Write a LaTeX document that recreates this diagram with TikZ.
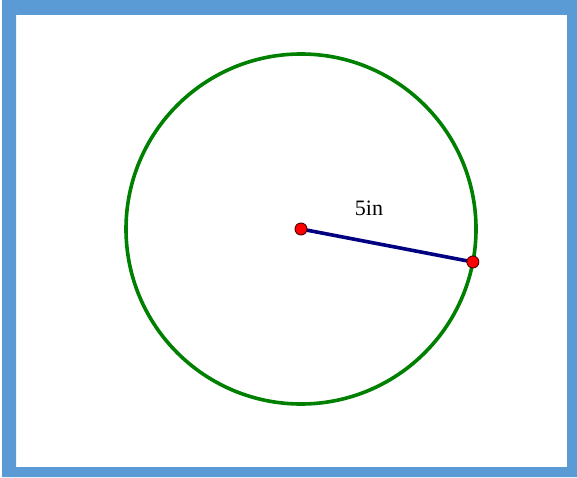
\documentclass[tikz,border=0pt]{standalone}
\usepackage{fontspec}
\setmainfont{Liberation Serif}
\usepackage{tikz}
\usetikzlibrary{calc}
\definecolor{framecol}{RGB}{91,155,213}
\definecolor{circlecol}{RGB}{0,128,0}
\definecolor{radiuscol}{RGB}{0,0,128}
\begin{document}
\begin{tikzpicture}[x=1pt, y=1pt,
    dotpt/.style={circle, fill=red, draw=black!70!red, line width=0.9pt,
      inner sep=0pt, minimum size=12pt}]
    \useasboundingbox (0,0) rectangle (577,477);
    % blue frame
    \fill[framecol, even odd rule] (2,0) rectangle (577,477) (16,10) rectangle (567,462);
    % circle and radius
    \coordinate (ctr) at (301,248);
    \coordinate (rimpt) at ($(ctr)+(-10.86:175)$);
    \draw[circlecol, line width=3.6pt] (ctr) circle (175);
    \draw[radiuscol, line width=3.6pt] (ctr) -- (rimpt);
    \node[dotpt] (center) at (ctr) {};
    \node[dotpt] (rim) at (rimpt) {};
    \node[font=\fontsize{22}{26}\selectfont] (lbl) at (369,269) {5in};
  \end{tikzpicture}
\end{document}
